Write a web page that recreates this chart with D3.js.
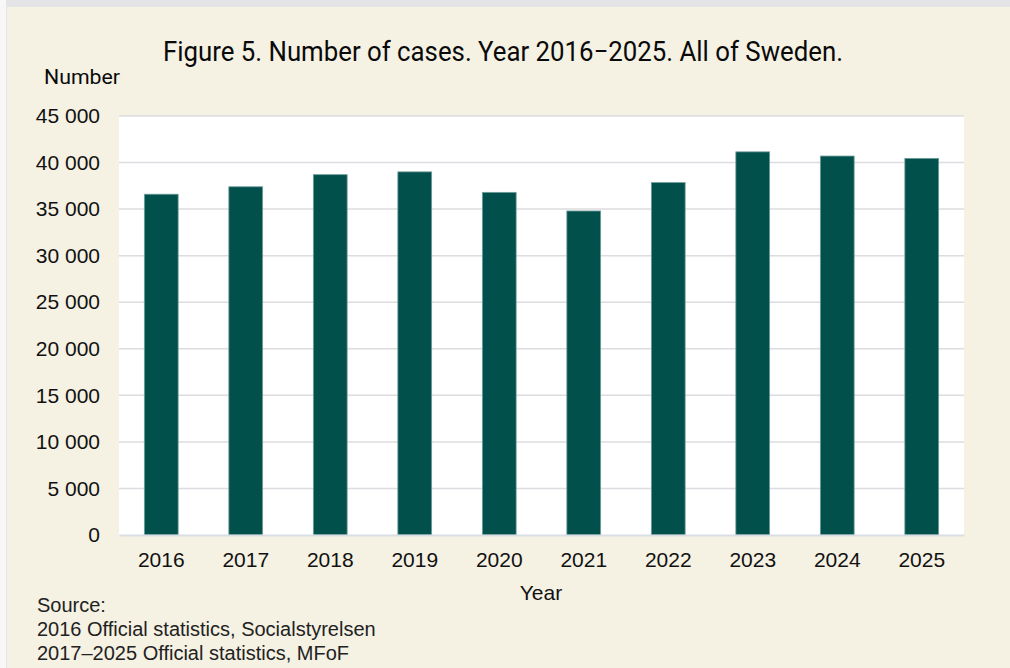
<!DOCTYPE html>
<html>
<head>
<meta charset="utf-8">
<script src="https://cdn.jsdelivr.net/npm/d3@7"></script>
<style>
  body { margin: 0; background: #e4e4e7; }
  svg { display: block; }
</style>
</head>
<body>
<div id="chart"></div>
<script>
// chart data
const years = ["2016", "2017", "2018", "2019", "2020", "2021", "2022", "2023", "2024", "2025"];
const cases = [36600, 37400, 38700, 39000, 36800, 34800, 37850, 41150, 40700, 40450];
const yTicks = [0, 5000, 10000, 15000, 20000, 25000, 30000, 35000, 40000, 45000];
const sourceLines = [
  "Source:",
  "2016 Official statistics, Socialstyrelsen",
  "2017\u20132025 Official statistics, MFoF"
];

const dim = {
  width: 1010,
  height: 668,
  pLeft: 119,
  pRight: 964,
  pTop: 116,
  pBottom: 535
};

const svg = d3
  .select("#chart")
  .append("svg")
  .attr("width", dim.width)
  .attr("height", dim.height);

// outer frame + cream panel
svg.append("rect").attr("width", dim.width).attr("height", dim.height).attr("fill", "#e4e4e7");
svg.append("rect").attr("x", 0).attr("y", 0).attr("width", 6).attr("height", dim.height).attr("fill", "#f7f7f8");
svg.append("rect").attr("x", 7).attr("y", 7).attr("width", dim.width - 7).attr("height", dim.height - 7).attr("fill", "#f5f1e3");

// plot area
svg
  .append("rect")
  .attr("x", dim.pLeft)
  .attr("y", dim.pTop)
  .attr("width", dim.pRight - dim.pLeft)
  .attr("height", dim.pBottom - dim.pTop)
  .attr("fill", "#ffffff");

var x = d3
  .scaleBand()
  .domain(years)
  .range([dim.pLeft, dim.pRight])
  .paddingInner(0.6)
  .paddingOuter(0.3);

var y = d3.scaleLinear().domain([0, 45000]).range([dim.pBottom, dim.pTop]);

const fmt = function (v) {
  return d3.format(",")(v).replace(/,/g, " ");
};

// gridlines
svg
  .append("g")
  .selectAll("line")
  .data(yTicks.filter(function (d) { return d > 0; }))
  .enter()
  .append("line")
  .attr("x1", dim.pLeft)
  .attr("x2", dim.pRight)
  .attr("y1", function (d) { return y(d); })
  .attr("y2", function (d) { return y(d); })
  .attr("stroke", "#dcdce1")
  .attr("stroke-width", 1.5);

// y axis labels
var yAxis = svg
  .append("g")
  .attr("transform", "translate(" + dim.pLeft + ",0)")
  .call(d3.axisLeft(y).tickValues(yTicks).tickFormat(fmt).tickSize(0).tickPadding(19));
yAxis.select(".domain").remove();
yAxis
  .selectAll("text")
  .style("font-family", "'Liberation Sans', Arial, sans-serif")
  .style("font-size", "21px")
  .style("fill", "#111");

// bars
svg
  .append("g")
  .selectAll("rect")
  .data(years)
  .enter()
  .append("rect")
  .attr("x", function (d) { return x(d); })
  .attr("y", function (d, i) { return y(cases[i]); })
  .attr("width", x.bandwidth())
  .attr("height", function (d, i) { return dim.pBottom - y(cases[i]); })
  .attr("fill", "#02504c")
  .attr("stroke", "#6f9e9b")
  .attr("stroke-width", 0.8);

// x axis
var xAxis = svg
  .append("g")
  .attr("transform", "translate(0," + dim.pBottom + ")")
  .call(d3.axisBottom(x).tickSize(0).tickPadding(17));
xAxis.select(".domain").attr("stroke", "#d9dde4").attr("stroke-width", 2);
xAxis
  .selectAll("text")
  .style("font-family", "'Liberation Sans', Arial, sans-serif")
  .style("font-size", "21px")
  .style("fill", "#111");

// titles
svg
  .append("text")
  .attr("x", 503)
  .attr("y", 61)
  .attr("text-anchor", "middle")
  .attr("textLength", 680)
  .attr("lengthAdjust", "spacingAndGlyphs")
  .style("font-family", "Roboto, sans-serif")
  .style("font-size", "28px")
  .style("fill", "#0a0a0a")
  .text("Figure 5. Number of cases. Year 2016\u22122025. All of Sweden.");

svg
  .append("text")
  .attr("x", 44)
  .attr("y", 84)
  .attr("textLength", 76)
  .attr("lengthAdjust", "spacingAndGlyphs")
  .style("font-family", "Roboto, sans-serif")
  .style("font-size", "20px")
  .style("fill", "#0a0a0a")
  .text("Number");

svg
  .append("text")
  .attr("x", 541)
  .attr("y", 600)
  .attr("text-anchor", "middle")
  .style("font-family", "'Liberation Sans', Arial, sans-serif")
  .style("font-size", "21px")
  .style("fill", "#111")
  .text("Year");

// source
svg
  .append("g")
  .selectAll("text")
  .data(sourceLines)
  .enter()
  .append("text")
  .attr("x", 37)
  .attr("y", function (d, i) { return 612 + i * 24; })
  .style("font-family", "'Liberation Sans', Arial, sans-serif")
  .style("font-size", "20px")
  .style("fill", "#222")
  .text(function (d) { return d; });
</script>
</body>
</html>
